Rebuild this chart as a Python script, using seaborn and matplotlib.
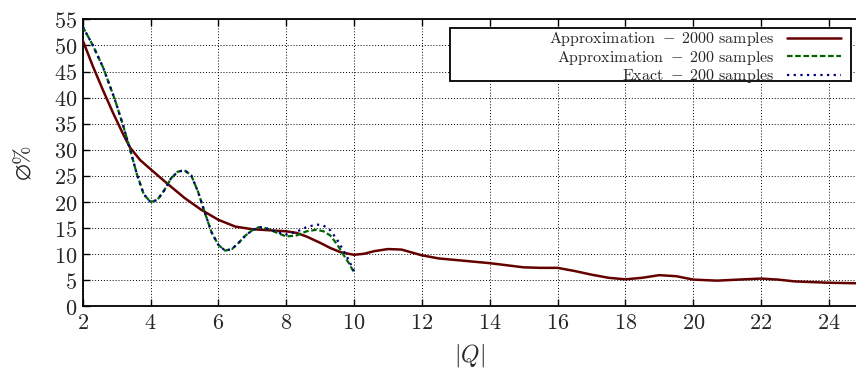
import matplotlib
matplotlib.use("Agg")
import matplotlib.pyplot as plt
import seaborn as sns
import pandas as pd
from matplotlib.patches import Rectangle

# ---- data ----
x_2000 = [2, 2.3, 2.6, 2.9, 3.2, 3.4, 3.7, 4.0, 4.5, 5.0, 5.5, 6.0, 6.5, 7.0, 7.5, 8.0,
          8.3, 8.6, 9.0, 9.3, 9.6, 10.0, 10.3, 10.6, 11.0, 11.4, 12.0, 12.5, 13.0, 14.0,
          14.5, 15.0, 15.5, 16.0, 16.5, 17.0, 17.5, 18.0, 18.5, 19.0, 19.5, 20.0, 20.7,
          21.5, 22.0, 22.5, 23.0, 24.0, 24.8]
y_2000 = [51, 46.0, 41.4, 37.0, 32.9, 30.4, 28.0, 26.3, 23.5, 20.8, 18.5, 16.6, 15.3,
          14.8, 14.6, 14.4, 14.1, 13.4, 12.2, 11.2, 10.4, 9.9, 10.1, 10.6, 11.0, 10.9,
          9.8, 9.2, 8.9, 8.3, 7.9, 7.5, 7.4, 7.4, 6.8, 6.1, 5.5, 5.2, 5.5, 6.0, 5.8,
          5.15, 4.95, 5.2, 5.35, 5.15, 4.8, 4.55, 4.45]

x_200 = [2, 2.3, 2.6, 2.95, 3.2, 3.4, 3.6, 3.8, 4.0, 4.2, 4.4, 4.6, 4.8, 5.0, 5.2, 5.4,
         5.6, 5.8, 6.0, 6.2, 6.4, 6.6, 6.8, 7.0, 7.2, 7.4, 7.7, 8.0, 8.3, 8.6, 8.9, 9.1,
         9.3, 9.5, 9.7, 9.85, 10.0]
y_approx_200 = [53.6, 50, 45.8, 39.6, 34.5, 30, 25.3, 21.5, 20.0, 20.4, 22.2, 24.5, 25.8,
                26.1, 25.1, 22, 18, 14.2, 11.8, 10.7, 11.0, 12.2, 13.6, 14.6, 15.2, 15.0,
                14.2, 13.4, 13.6, 14.4, 14.7, 14.4, 13.6, 11.9, 9.8, 8.3, 6.5]
y_exact_200 = [53.6, 50, 45.8, 39.6, 34.5, 30, 25.3, 21.5, 20.0, 20.4, 22.2, 24.5, 25.8,
               26.1, 25.1, 22, 18, 14.2, 11.8, 10.7, 11.0, 12.2, 13.6, 14.6, 15.2, 15.0,
               14.3, 13.8, 14.3, 15.2, 15.7, 15.5, 14.6, 12.8, 10.6, 8.8, 6.8]

labels = [r"$\mathrm{Approximation}\ -\ \mathrm{2000\ samples}$",
          r"$\mathrm{Approximation}\ -\ \mathrm{200\ samples}$",
          r"$\mathrm{Exact}\ -\ \mathrm{200\ samples}$"]
x_ticks = [2, 4, 6, 8, 10, 12, 14, 16, 18, 20, 22, 24]
y_ticks = [0, 5, 10, 15, 20, 25, 30, 35, 40, 45, 50, 55]

sns.set_theme(style="white")
plt.rcParams["font.family"] = ["serif"]
plt.rcParams["mathtext.fontset"] = "cm"
plt.rcParams["axes.formatter.use_mathtext"] = True

fig = plt.figure(figsize=(8.56, 3.73), dpi=100)
ax = fig.add_axes([0.0966, 0.1783, 0.9034, 0.7700])

df1 = pd.DataFrame({"x": x_2000, "y": y_2000})
df2 = pd.DataFrame({"x": x_200, "y": y_approx_200})
df3 = pd.DataFrame({"x": x_200, "y": y_exact_200})

sns.lineplot(data=df1, x="x", y="y", ax=ax, color="#640000", linewidth=1.8,
             label=labels[0], zorder=3)
sns.lineplot(data=df2, x="x", y="y", ax=ax, color="#006400", linewidth=1.6,
             linestyle=(0, (2.5, 1.2)), label=labels[1], zorder=3)
sns.lineplot(data=df3, x="x", y="y", ax=ax, color="#000080", linewidth=1.6,
             linestyle=(0, (1, 2)), label=labels[2], zorder=3)

ax.set_xlim(2, 24.8)
ax.set_ylim(0, 55)
ax.set_xticks(x_ticks)
ax.set_yticks(y_ticks)
ax.set_xticklabels([f"${t}$" for t in x_ticks])
ax.set_yticklabels([f"${t}$" for t in y_ticks])
ax.tick_params(axis="both", which="major", labelsize=16, direction="in",
               length=5, width=1, color="black", top=True, bottom=True,
               left=True, right=False, pad=4)
ax.grid(True, color="black", linestyle=(0, (1, 2)), linewidth=0.7)
ax.set_axisbelow(True)
for side in ["left", "bottom", "top"]:
    ax.spines[side].set_visible(True)
    ax.spines[side].set_color("black")
    ax.spines[side].set_linewidth(1.3)
ax.spines["right"].set_visible(False)

ax.set_xlabel(r"$|Q|$", fontsize=17, labelpad=6)
ax.set_ylabel(r"$\varnothing\%$", fontsize=16, labelpad=14)

# legend box
ax.add_patch(Rectangle((0.475, 0.785), 0.5185, 0.1837, transform=ax.transAxes,
                       facecolor="white", edgecolor="black", linewidth=1.3, zorder=4))
leg = ax.legend(loc="upper right", bbox_to_anchor=(0.986, 0.975), frameon=False,
                markerfirst=False, fontsize=11.5, handlelength=3.4, labelspacing=0.02,
                borderaxespad=0.0, borderpad=0.25, handletextpad=0.8)
leg.set_zorder(5)

fig.savefig("out.png", dpi=100)
